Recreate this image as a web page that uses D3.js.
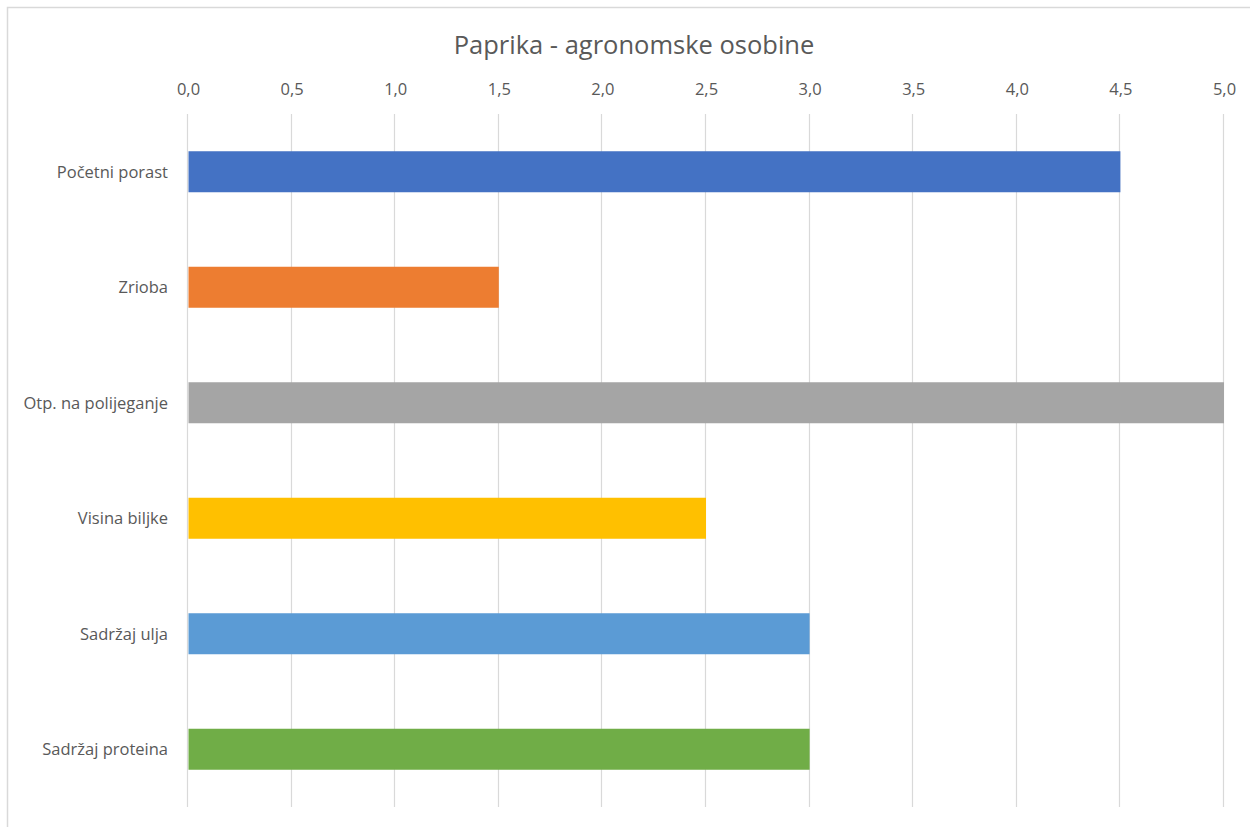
<!DOCTYPE html>
<html>
<head>
<meta charset="utf-8">
<script src="https://cdn.jsdelivr.net/npm/d3@7"></script>
<style>
  body { margin: 0; background: #fff; }
  text { font-family: "Open Sans", "Noto Sans", sans-serif; fill: #595959; }
</style>
</head>
<body>
<div id="chart"></div>
<script>
// chart data
const categories = ["Početni porast", "Zrioba", "Otp. na polijeganje", "Visina biljke", "Sadržaj ulja", "Sadržaj proteina"];
const values = [4.5, 1.5, 5.0, 2.5, 3.0, 3.0];
const barColors = ["#4472C4", "#ED7D31", "#A5A5A5", "#FFC000", "#5B9BD5", "#70AD47"];
const tickValues = [0, 0.5, 1, 1.5, 2, 2.5, 3, 3.5, 4, 4.5, 5];
const title = "Paprika - agronomske osobine";

let width = 1250,
    height = 827,
    margin = {top: 114, right: 26, bottom: 20, left: 188};

let svg = d3.select("#chart").append("svg")
    .attr("width", width)
    .attr("height", height);

// chart frame
svg.append("rect")
    .attr("x", 7.5)
    .attr("y", 7.5)
    .attr("width", width + 20)
    .attr("height", height + 20)
    .style("fill", "none")
    .style("stroke", "#d9d9d9")
    .style("stroke-width", 1.5);

let x = d3.scaleLinear()
    .domain([0, 5])
    .range([margin.left, width - margin.right]);

let y = d3.scaleBand()
    .domain(categories)
    .range([margin.top, 807])
    .paddingInner(0.645)
    .paddingOuter(0.3225);

// title
svg.append("text")
    .attr("x", 634)
    .attr("y", 54)
    .attr("text-anchor", "middle")
    .attr("font-size", 25.5)
    .text(title);

// gridlines
svg.append("g")
    .selectAll("line")
    .data(tickValues)
    .enter().append("line")
    .attr("x1", function(d) { return Math.round(x(d)) - 0.5; })
    .attr("x2", function(d) { return Math.round(x(d)) - 0.5; })
    .attr("y1", margin.top)
    .attr("y2", 807)
    .style("stroke", "#d9d9d9")
    .style("stroke-width", 1.2);

// top axis
let xAxis = svg.append("g")
    .attr("transform", "translate(0, 95)")
    .call(d3.axisTop(x)
        .tickValues(tickValues)
        .tickSize(0)
        .tickPadding(0)
        .tickFormat(function(d) { return d3.format(".1f")(d).replace(".", ","); }));
xAxis.select(".domain").remove();
xAxis.selectAll("text")
    .attr("font-size", 16.5)
    .style("font-family", "\"Open Sans\", \"Noto Sans\", sans-serif")
    .style("fill", "#595959");

// bars
svg.append("g")
    .selectAll("rect")
    .data(values)
    .enter().append("rect")
    .attr("x", x(0) + 0.5)
    .attr("y", function(d, i) { return y(categories[i]); })
    .attr("width", function(d) { return x(d) - x(0) - 0.5; })
    .attr("height", y.bandwidth())
    .style("fill", function(d, i) { return barColors[i]; });

// category labels
svg.append("g")
    .selectAll("text")
    .data(categories)
    .enter().append("text")
    .attr("x", 168)
    .attr("y", function(d) { return y(d) + y.bandwidth() / 2; })
    .attr("dy", "0.35em")
    .attr("text-anchor", "end")
    .attr("font-size", 16.5)
    .text(function(d) { return d; });
</script>
</body>
</html>
